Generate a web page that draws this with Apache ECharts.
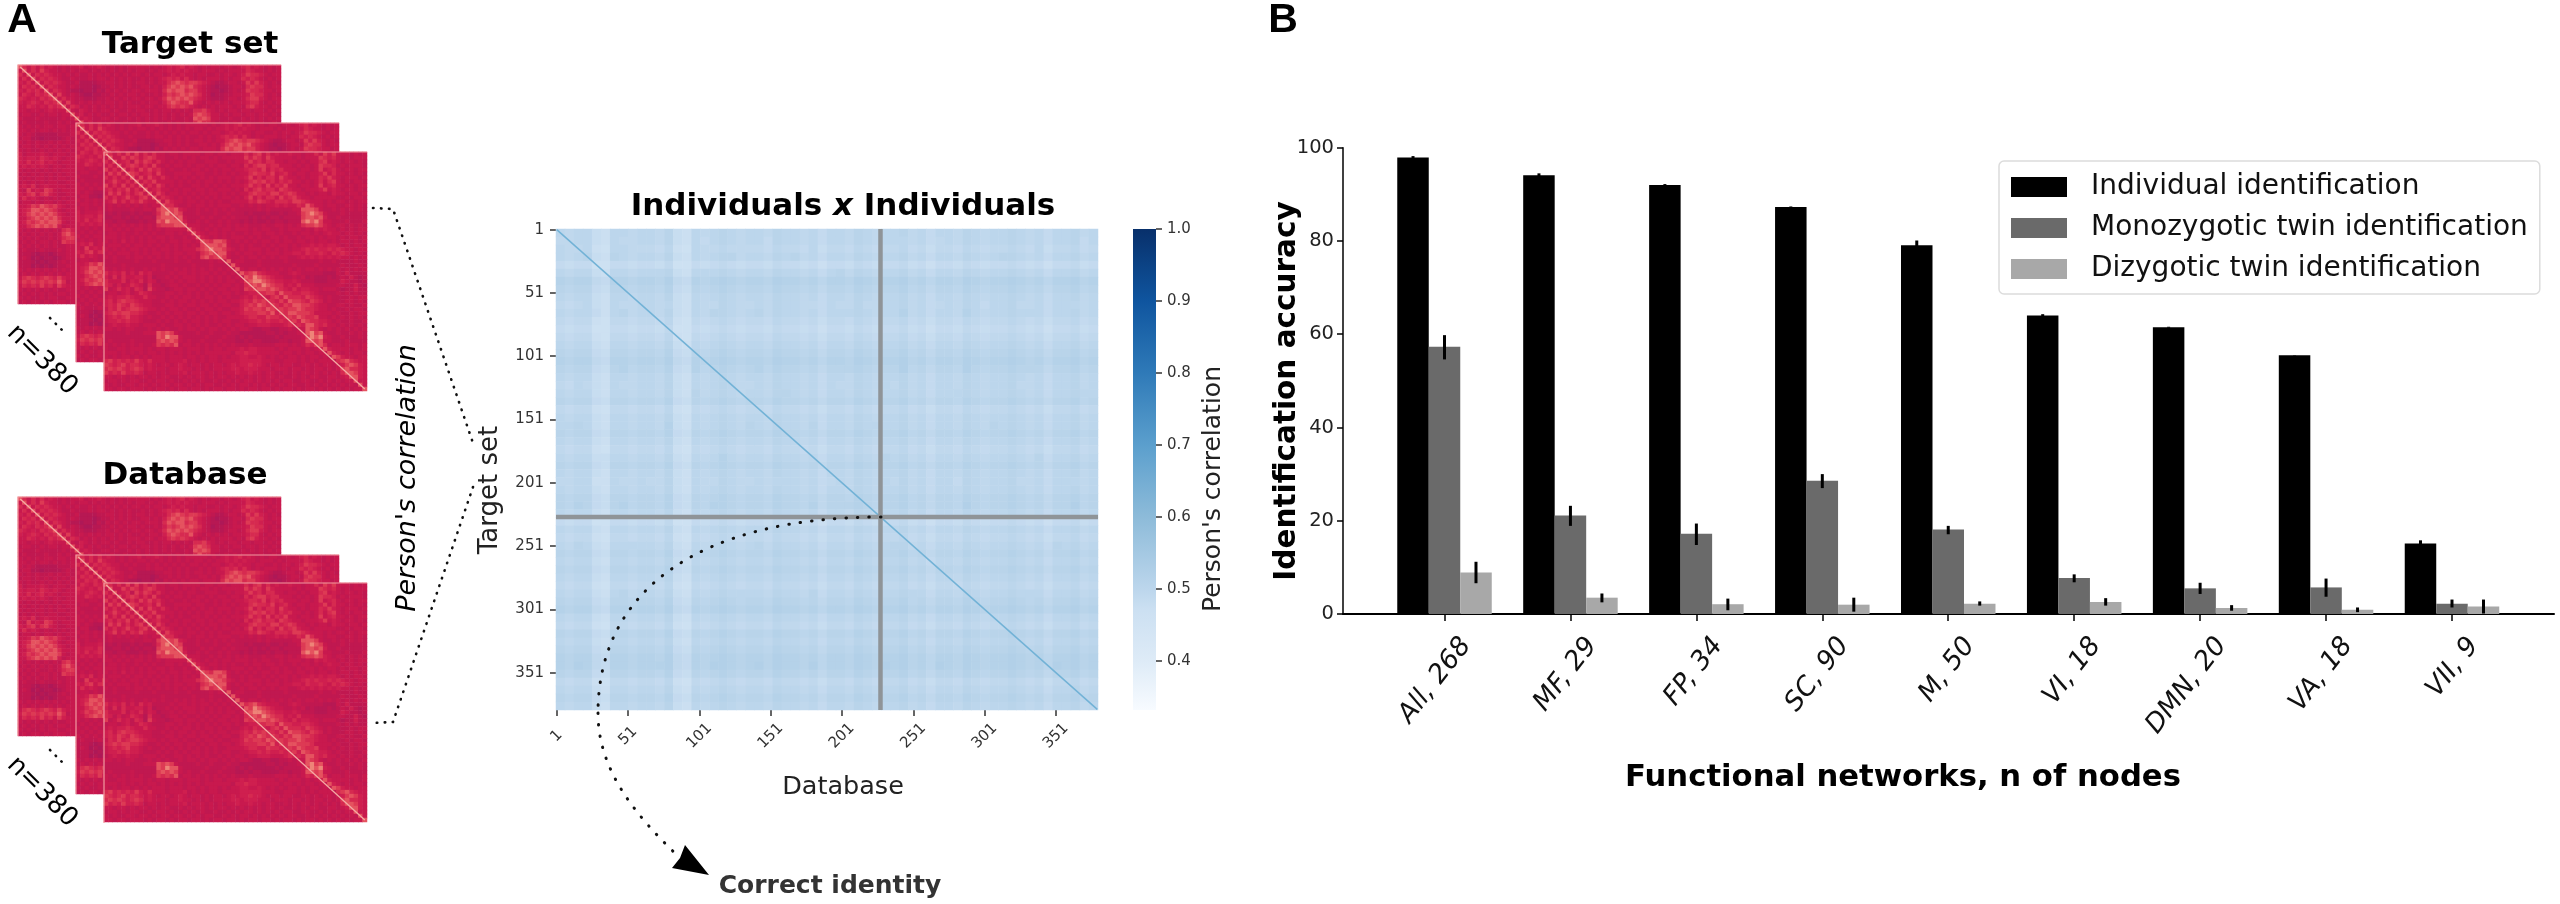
<!DOCTYPE html>
<html>
<head>
<meta charset="utf-8">
<title>Identification accuracy</title>
<script src="https://cdn.jsdelivr.net/npm/echarts@6/dist/echarts.min.js"></script>
<style>html,body{margin:0;padding:0;background:#fff}#c{width:2560px;height:904px}</style>
</head>
<body>
<div id="c"></div>
<script>
// ---------- Panel B values ----------
const networkLabels = ['All, 268','MF, 29','FP, 34','SC, 90','M, 50','VI, 18','DMN, 20','VA, 18','VII, 9'];
const individualValues = [97.9,94.1,92.0,87.3,79.1,64.0,61.5,55.5,15.1];
const individualLow    = [97.5,93.7,91.8,87.2,78.2,63.8,61.4,55.45,14.4];
const individualHigh   = [98.2,94.5,92.2,87.4,80.1,64.3,61.6,55.55,15.8];
const monozygoticValues = [57.3,21.1,17.2,28.6,18.1,7.7,5.5,5.7,2.2];
const monozygoticLow    = [54.6,18.9,14.8,27.0,17.1,6.8,4.3,3.7,1.4];
const monozygoticHigh   = [59.8,23.2,19.4,30.0,18.9,8.5,6.7,7.6,3.1];
const dizygoticValues = [8.9,3.5,2.1,2.0,2.2,2.6,1.3,0.9,1.6];
const dizygoticLow    = [6.6,2.5,0.8,0.5,1.8,1.8,0.7,0.4,0.1];
const dizygoticHigh   = [11.2,4.4,3.3,3.5,2.7,3.4,1.9,1.4,3.1];
const seriesNames = ['Individual identification','Monozygotic twin identification','Dizygotic twin identification'];
const accuracyTicks = [0,20,40,60,80,100];

// ---------- Panel A values (coarse estimates, one digit per cell) ----------
const individualTicks = [1,51,101,151,201,251,301,351];
const correlationTicks = [0.4,0.5,0.6,0.7,0.8,0.9,1.0];
const correctIdentityIndex = 228;
const individualRange = [1,380];

const frontMatrix = [
"8646474746 4644344344 4434434434 4464674645 4454434464 7574443434",
"4844757646 7644334343 4344343444 4475764754 4443434447 6564343444",
"6484563757 6464343434 4334443343 4457564664 4344343446 7454344343",
"4648467646 4743434434 3443434434 4364677566 4443434347 6653434443",
"7464846475 7564343343 4434343443 4456657465 6444344347 4564344344",
"4757487645 6474334444 3443343434 3446766574 5643443445 7464434343",
"6464648474 7546434343 4343434443 4457464664 7544343446 5754344434",
"4575464846 5744443434 3434434343 4346767564 6564434346 4674343443",
"7464746484 6475343433 4434343434 4457564746 5744344347 4564434344",
"5646574648 4564434344 3443434443 4364675664 7654434445 7454344343",
"4757464674 8475344343 4343443434 3446766577 5676443434 4354434434",
"6464575467 4846543434 3434343443 4357464664 7567544344 4443343443",
"4574646575 4484754434 4343434334 4446576546 6657765444 3434434344",
"3434343434 3448664334 3443434443 3434343445 4544658644 3443344343",
"3433334334 4378878543 3434343434 3333343433 3334488874 3343434343",
"2323223232 2368978733 3433343343 3323222322 3233478987 4333433333",
"2233232323 3278887843 3343433434 3332323233 2333378878 5334333333",
"3323322232 3387988853 3434334343 3232322323 3233389897 4433343334",
"4343434343 4367778884 4433434343 4343334334 4343467787 5434434343",
"4434343443 4343444448 5434343443 4443434433 4344434354 5443434344",
"3443433434 3433443434 8543443434 3343443443 4334344343 4544344343",
"4443434343 4344343343 4854343434 4434343344 3433434434 3443434434",
"4343534343 4434344344 3487688743 4343434434 3443443434 4343443434",
"3444343443 4343434343 4378887843 3434334343 4434344545 4554343443",
"4343434434 3434434344 4678988754 3434443434 3434456565 5656544344",
"3434443434 3443434434 4367878843 4344343444 3445546556 5465654343",
"4343343443 4343434343 4378678743 3434434343 4433454545 4545443434",
"3343333433 3433334334 3333434483 4433343333 3433333334 3343333433",
"3333433333 3334333333 4333433338 4333343333 3334333343 3333433343",
"4343434334 3434334343 4343434343 8434434343 4343434434 3434343434",
"6454635364 5333343443 4344343434 3867865444 3345433333 2224353333",
"5363644553 5233434344 4343434343 4387987654 4334342322 2323435323",
"6444635463 5423343434 4343434344 3478998765 5445433322 2333543323",
"6535346542 6332344343 3434343443 4367879876 6454644433 3334433532",
"7346453652 7433234434 4343434434 4376788787 6546455443 4443233533",
"3443453465 4333443434 3434343443 4345566775 8665566543 3334343433",
"4545565446 4433434344 3434434343 3454655467 5866657654 3433334344",
"5646766544 4334343443 4343434434 4565767665 7587765765 3433344343",
"5657657654 4333443434 4344343443 3567687676 5768877654 4334434334",
"4657567765 4434344343 3434434334 4576776876 7677876654 4343343443",
"5676776654 3343434434 4343443443 4566677685 7688777644 4434334344",
"4565675543 4334343434 3434343344 4456655766 5676876674 4343434343",
"4556565543 3343434343 4434343443 3445565655 6567587665 5434334334",
"3454454434 4434334434 3434334343 4434455544 4565658865 6443434343",
"4434344333 4343433434 4343443434 3443223322 3343448764 3434343434",
"3333343334 4487874333 3433433343 3222222332 3233448978 4334334343",
"3333333333 3387988433 3334333433 2323222223 2333347989 5433433343",
"3433334333 3378787434 3343334333 2232332222 3323348878 4433343333",
"4343434343 3476768344 3434343434 3334333334 4434346578 6344344434",
"4334434443 4344344434 4434344344 4545544443 4344434345 8544443434",
"4443434343 4434343434 3434444443 5565544444 3443434434 4854343443",
"4343443434 3444344434 4343443434 4554454343 4344343443 4387544344",
"6756565754 6444344453 4343443444 4555554443 3444343434 4436786544",
"7656756654 5434434543 4434344345 4556554344 3443344343 4434578754",
"6767656764 5444344544 3434344445 5455544434 4434434344 3434786654",
"7565755653 4434344453 4443434344 5445443443 3434344343 4343688754",
"4434434344 3434433434 3443434434 3434343443 4334343443 3443458854",
"3443434433 4344343343 4343343343 4344343434 3443344334 3434344844",
"4343344344 3434434434 3434433434 3443434343 4344334343 4343434384",
"4434434443 4344343443 4434344344 3434434434 3443434434 3434343448"
];

// Rows/cols hidden behind the nearer matrices carry the base value only.
const rearMatrix = [
"8646464543 4344534454 3434344444 3434545645 4343443443 4564543434",
"4846475443 4343443434 3434343443 4344545454 4344434344 4465443434",
"6484656544 3434334343 4343434434 3443454544 3443343443 4576654344",
"4648465654 3343334344 3434343343 4345656464 3434443434 4656543434",
"5464846565 4334222233 4434343443 4344678767 7654322344 3475754343",
"4656484654 4343222123 3434343344 3435787878 6543212234 4367664344",
"5465648465 4322122132 4343434434 4436878867 7543221234 3476654434",
"4654656847 4343211223 3434344343 3435767878 7643122334 4457664343",
"6545465684 6443322233 4343434434 4346878787 6543222344 3467754344",
"5456546568 4743434343 4434343343 4435787668 5434343434 4456643434",
"4465454656 8465343434 3434344434 4344676765 4343434443 4367544343",
"4434434544 4843543434 4343343443 3434434343 6675434344 3443443434",
"3443343443 4484534343 3434434344 3434343434 7876443434 4344344343",
"4333433333 4348454334 4343343434 3434343343 8787443343 3434343434",
"3433334334 3434845343 3433433434 3433434343 6866433434 3443343343",
"4343434434 4344484534 4444444444 4444444444 4444444444 4444444444",
"4434344343 4343448453 4444444444 4444444444 4444444444 4444444444",
"4343222223 3344344845 4444444444 4444444444 4444444444 4444444444",
"3442212222 3434343484 4444444444 4444444444 4444444444 4444444444",
"4343433434 3434344348 4444444444 4444444444 4444444444 4444444444",
"3443434343 4343434444 4444444444 4444444444 4444444444 4444444444",
"4343343434 3434444444 4444444444 4444444444 4444444444 4444444444",
"5344454344 4344444444 4444444444 4444444444 4444444444 4444444444",
"5455465454 3444444444 4444444444 4444444444 4444444444 4444444444",
"5464564543 4444444444 4444444444 4444444444 4444444444 4444444444",
"4545454344 3444444444 4444444444 4444444444 4444444444 4444444444",
"4343434343 4444444444 4444444444 4444444444 4444444444 4444444444",
"3434343434 3444444444 4444444444 4444444444 4444444444 4444444444",
"4343443434 4344444444 4444444444 4444444444 4444444444 4444444444",
"3434343443 3444444444 4444444444 4444444444 4444444444 4444444444",
"4546345444 4344444444 4444444444 4444444444 4444444444 4444444444",
"4374547643 4444444444 4444444444 4444444444 4444444444 4444444444",
"5467467543 3444444444 4444444444 4444444444 4444444444 4444444444",
"4645434343 4344444444 4444444444 4444444444 4444444444 4444444444",
"3443434434 3444444444 4444444444 4444444444 4444444444 4444444444",
"4457687675 4344444444 4444444444 4444444444 4444444444 4444444444",
"4568878764 3444444444 4444444444 4444444444 4444444444 4444444444",
"4578787875 4344444444 4444444444 4444444444 4444444444 4444444444",
"4467878786 4444444444 4444444444 4444444444 4444444444 4444444444",
"4576787887 4344444444 4444444444 4444444444 4444444444 4444444444",
"4467878785 3444444444 4444444444 4444444444 4444444444 4444444444",
"4343434343 6754444444 4444444444 4444444444 4444444444 4444444444",
"3434343434 7864444444 4444444444 4444444444 4444444444 4444444444",
"4343433434 6774444444 4444444444 4444444444 4444444444 4444444444",
"3434344343 7664444444 4444444444 4444444444 4444444444 4444444444",
"4343434343 3444444444 4444444444 4444444444 4444444444 4444444444",
"3433343334 3444444444 4444444444 4444444444 4444444444 4444444444",
"3332122123 3444444444 4444444444 4444444444 4444444444 4444444444",
"3431212212 3444444444 4444444444 4444444444 4444444444 4444444444",
"3332121223 4344444444 4444444444 4444444444 4444444444 4444444444",
"3331212123 3444444444 4444444444 4444444444 4444444444 4444444444",
"4343434343 4344444444 4444444444 4444444444 4444444444 4444444444",
"3434343434 3444444444 4444444444 4444444444 4444444444 4444444444",
"4676567657 5444444444 4444444444 4444444444 4444444444 4444444444",
"5767676768 6344444444 4444444444 4444444444 4444444444 4444444444",
"4656575647 5444444444 4444444444 4444444444 4444444444 4444444444",
"4343434343 3444444444 4444444444 4444444444 4444444444 4444444444",
"3434343434 4344444444 4444444444 4444444444 4444444444 4444444444",
"4343343443 3444444444 4444444444 4444444444 4444444444 4444444444",
"3434434344 4344444444 4444444444 4444444444 4444444444 4444444444"
];

const similarityMatrix = [
"5455215545 5462154565 4554655453 5546545564 5355465455 6545355645",
"4455215445 5462153565 4553655453 5546545554 5345465455 6545355635",
"5445105544 4351054454 4443544352 4435434453 4244354344 5435244534",
"5456216545 5462154566 4554656453 5546545564 5355465456 6545355645",
"3233003323 3240032343 2332433231 3324323342 3133243233 4323133423",
"5455215545 5562155565 4554655453 5646545564 5355465455 6545355645",
"7677437767 7684376787 6776877675 7768767786 7577687677 8767577867",
"6566326656 6573265676 5665766564 6657656675 6466576566 7656466756",
"5455215545 5462154565 4554655453 5546545564 5355465455 6545355645",
"4345215445 5452154465 4454655443 5446445564 5345465355 6445355545",
"5455315645 5462154665 4564655453 5556545574 5355475455 6555355645",
"4344104434 4351043454 3443544342 4435434453 4244354344 5434244534",
"3233003323 3240032343 2332433231 3324323342 3133243233 4323133423",
"4344104434 4351043454 3443544342 4435434453 4244354344 5434244534",
"5455215545 5462154565 4554655453 5546545564 5355465455 6545355645",
"6566326656 6573265676 5665766564 6657656675 6466576566 7656466756",
"7677437767 7684376787 6776877675 7768767786 7577687677 8767577867",
"6566326756 6573275676 5675766564 6667656685 6466586566 7666466756",
"5455215545 5462154565 4554655453 5546545564 5355465455 6545355645",
"4354215445 5462154565 4454655453 5446545464 5355465455 6445355645",
"5455215545 5462164565 4554665453 5546545564 5355565455 6545355655",
"6566326656 6573265676 5665766564 6657656675 6466576566 7656466756",
"4344104434 4351043454 3443544342 4435434453 4244354344 5434244534",
"5455215545 5462154565 4554655453 5546545564 5355465455 6545355645",
"5565215545 5472154565 4654655463 5546555564 5355465465 6545355645",
"6566326656 6573265676 5665766564 6657656675 6466576566 7656466756",
"5455215545 5462154565 4554655453 5546545564 5355465455 6545355645",
"4344104434 4351043454 3443544342 4435434453 4244354344 5434244534",
"5455225545 5462154575 4554655453 5546546564 5355465455 6546355645",
"6566326656 6573265676 5665766564 6657656675 6466576566 7656466756",
"5455215545 5462154565 4554655453 5546545564 5355465455 6545355645",
"4455115445 4462154465 4454555453 4546545464 5355365455 6445355545",
"5455215545 5462154565 4554655453 5546545564 5355465455 6545355645",
"6566326656 6573265676 5665766564 6657656675 6466576566 7656466756",
"6576326756 6573265776 5665766574 6667656675 6466586566 7656466856",
"5455215545 5462154565 4554655453 5546545564 5355465455 6545355645",
"3233003323 3240032343 2332433231 3324323342 3133243233 4323133423",
"5455215545 5462154565 4554655453 5546545564 5355465455 6545355645",
"4344104434 4351043454 3443544342 4435434453 4244354344 5434244534",
"5465215555 5462154565 4564655453 5546545664 5355465455 6545365645",
"6566326656 6573265676 5665766564 6657656675 6466576566 7656466756",
"5455215545 5462154565 4554655453 5546545564 5355465455 6545355645",
"6566326656 6573265676 5665766564 6657656675 6466576566 7656466756",
"5455215545 5462154565 4554655453 5546545564 5355465455 6545355645",
"4344104434 4351043454 3443544342 4435434453 4244354344 5434244534",
"5455215645 5462154565 5554655463 5546545565 5355465455 6555355645",
"6566326656 6573265676 5665766564 6657656675 6466576566 7656466756",
"7677437767 7684376787 6776877675 7768767786 7577687677 8767577867",
"5455215545 5462154565 4554655453 5546545564 5355465455 6545355645",
"4344104434 4351043454 3443544342 4435434453 4244354344 5434244534",
"6566326656 6573265676 5665766564 6657656675 6466576566 7656466756",
"5455215545 5462154565 4554655453 5546545564 5355465455 6545355645",
"6566326656 6573265676 5665766564 6657656675 6466576566 7656466756",
"7677437767 7684376787 6776877675 7768767786 7577687677 8767577867",
"7687437767 7784376887 6786877685 7768768786 7587687677 8767587867",
"6566326656 6573265676 5665766564 6657656675 6466576566 7656466756",
"4344104434 4351043454 3443544342 4435434453 4244354344 5434244534",
"5455215545 5462154565 4554655453 5546545564 5355465455 6545355645",
"6566326656 6573265676 5665766564 6657656675 6466576566 7656466756",
"5455215545 5462154565 4554655453 5546545564 5355465455 6545355645"
];

const redPalette = ['#a4195a','#ae1857','#b71853','#c01850','#c8194e','#cf1f4f','#d62a50','#dd3a54','#e5535f','#ee8478'];
const bluePalette = [[0.332,'#f7fbff'],[0.4,'#deebf7'],[0.47,'#cce0f2'],[0.5,'#bcd6ec'],[0.6,'#8dbbd9'],[0.7,'#5b9fcd'],[0.8,'#2f7ab8'],[0.9,'#0f559f'],[1,'#08306b']];

// ---------- Build ----------
const FONT = '"DejaVu Sans"';
const grids = [], xAxes = [], yAxes = [], series = [];
const redSeries = [], blueSeries = [];

function cellsOf(rows, decode) {
  const out = [];
  rows.forEach((raw, y) => { const r = raw.replace(/ /g, ''); for (let x = 0; x < r.length; x++) out.push([x, y, decode(Number(r[x]))]); });
  return out;
}
function addMatrix(rect, rows, z) {
  const i = grids.length;
  grids.push({left: rect[0], top: rect[1], width: rect[2], height: rect[3], containLabel: false});
  const n = rows.length, cats = rows.map((_, k) => String(k));
  xAxes.push({gridIndex: i, type: 'category', data: cats, show: false});
  yAxes.push({gridIndex: i, type: 'category', data: cats, inverse: true, show: false});
  redSeries.push(series.length);
  series.push({type: 'heatmap', xAxisIndex: i, yAxisIndex: i, z: z, silent: true, progressive: 0,
    itemStyle: {borderWidth: 0}, data: cellsOf(rows, d => d)});
  series.push({type: 'line', xAxisIndex: i, yAxisIndex: i, z: z + 1, silent: true, symbol: 'none',
    lineStyle: {color: '#f5aaa4', width: 1.3}, data: [[0, 0], [n - 1, n - 1]]});
}
addMatrix([18, 65, 263, 239], rearMatrix, 2);
addMatrix([76, 123, 263, 239], rearMatrix, 4);
addMatrix([104, 152, 263, 239], frontMatrix, 6);
addMatrix([18, 497, 263, 239], rearMatrix, 2);
addMatrix([76, 555, 263, 239], rearMatrix, 4);
addMatrix([104, 583, 263, 239], frontMatrix, 6);

// similarity heat map (texture)
const simRect = {left: 556, top: 229, width: 542, height: 481};
let gi = grids.length;
grids.push(Object.assign({containLabel: false}, simRect));
const simCats = similarityMatrix.map((_, k) => String(k));
xAxes.push({gridIndex: gi, type: 'category', data: simCats, show: false});
yAxes.push({gridIndex: gi, type: 'category', data: simCats, inverse: true, show: false});
blueSeries.push(series.length);
series.push({type: 'heatmap', xAxisIndex: gi, yAxisIndex: gi, z: 2, silent: true, progressive: 0,
  itemStyle: {borderWidth: 0}, data: cellsOf(similarityMatrix, d => +(0.465 + d * 0.007).toFixed(3))});

// similarity axes, diagonal and crosshair
gi = grids.length;
grids.push(Object.assign({containLabel: false}, simRect));
const tickText = {color: '#333', fontFamily: FONT, fontSize: 15};
xAxes.push({gridIndex: gi, type: 'value', min: individualRange[0] - 0.5, max: individualRange[1] + 0.5,
  splitLine: {show: false}, axisLine: {show: false},
  axisTick: {show: true, customValues: individualTicks, length: 6, lineStyle: {color: '#333', width: 1.5}},
  axisLabel: Object.assign({}, tickText, {customValues: individualTicks, rotate: 45, align: 'center', verticalAlign: 'middle', margin: 26, formatter: v => String(v)})});
yAxes.push({gridIndex: gi, type: 'value', inverse: true, min: individualRange[0] - 0.5, max: individualRange[1] + 0.5,
  splitLine: {show: false}, axisLine: {show: false},
  axisTick: {show: true, customValues: individualTicks, length: 6, lineStyle: {color: '#333', width: 1.5}},
  axisLabel: Object.assign({}, tickText, {customValues: individualTicks, margin: 12, formatter: v => String(v)})});
series.push({type: 'line', xAxisIndex: gi, yAxisIndex: gi, z: 3, silent: true, symbol: 'none',
  lineStyle: {color: '#72b2d6', width: 1.5},
  data: [[individualRange[0], individualRange[0]], [individualRange[1], individualRange[1]]]});
series.push({type: 'line', xAxisIndex: gi, yAxisIndex: gi, z: 4, silent: true, symbol: 'none',
  lineStyle: {color: '#8f9498', width: 4.5},
  data: [[correctIdentityIndex, individualRange[0] - 0.5], [correctIdentityIndex, individualRange[1] + 0.5]]});
series.push({type: 'line', xAxisIndex: gi, yAxisIndex: gi, z: 4, silent: true, symbol: 'none',
  lineStyle: {color: '#8f9498', width: 4.5},
  data: [[individualRange[0] - 0.5, correctIdentityIndex], [individualRange[1] + 0.5, correctIdentityIndex]]});

// colour bar
gi = grids.length;
grids.push({left: 1133, top: 229, width: 23, height: 481, containLabel: false});
const cbMin = bluePalette[0][0], cbMax = bluePalette[bluePalette.length - 1][0];
xAxes.push({gridIndex: gi, type: 'category', data: ['r'], show: false});
yAxes.push({gridIndex: gi, type: 'value', position: 'right', min: cbMin, max: cbMax,
  splitLine: {show: false}, axisLine: {show: false},
  axisTick: {show: true, customValues: correlationTicks, length: 6, lineStyle: {color: '#333', width: 1.5}},
  axisLabel: Object.assign({}, tickText, {customValues: correlationTicks, margin: 11, formatter: v => v.toFixed(1)})});
series.push({type: 'bar', xAxisIndex: gi, yAxisIndex: gi, silent: true, barWidth: '100%', data: [cbMax],
  itemStyle: {color: new echarts.graphic.LinearGradient(0, 1, 0, 0,
    bluePalette.map(p => ({offset: (p[0] - cbMin) / (cbMax - cbMin), color: p[1]})))}});

// panel B
gi = grids.length;
grids.push({left: 1343, top: 147.7, width: 1211, height: 466.3, containLabel: false});
const catTicks = networkLabels.map((_, k) => k);
xAxes.push({gridIndex: gi, type: 'value', min: -0.806, max: 8.81, splitLine: {show: false},
  axisLine: {show: true, onZero: false, lineStyle: {color: '#000', width: 2}},
  axisTick: {show: true, customValues: catTicks, length: 7, lineStyle: {color: '#000', width: 1.5}},
  axisLabel: {customValues: catTicks, rotate: 52, margin: 10, verticalAlign: 'top', padding: [14, 0, 0, 0], color: '#111', fontFamily: FONT, fontStyle: 'italic', fontSize: 26.5,
    formatter: v => networkLabels[v]}});
yAxes.push({gridIndex: gi, type: 'value', min: accuracyTicks[0], max: accuracyTicks[accuracyTicks.length - 1], interval: 20,
  splitLine: {show: false},
  axisLine: {show: true, onZero: false, lineStyle: {color: '#000', width: 1.5}},
  axisTick: {show: true, length: 6, lineStyle: {color: '#000', width: 1.5}},
  axisLabel: {margin: 9, color: '#222', fontFamily: FONT, fontSize: 19.5}});
const barColors = ['#000000', '#6a6a6a', '#a8a8a8'];
const barValues = [individualValues, monozygoticValues, dizygoticValues];
const barLow = [individualLow, monozygoticLow, dizygoticLow];
const barHigh = [individualHigh, monozygoticHigh, dizygoticHigh];
barValues.forEach((vals, s) => {
  series.push({type: 'bar', name: seriesNames[s], xAxisIndex: gi, yAxisIndex: gi, barWidth: 31.5, barGap: '0%', silent: true,
    itemStyle: {color: barColors[s]}, data: vals.map((v, k) => [k, v])});
});
barValues.forEach((vals, s) => {
  series.push({type: 'custom', xAxisIndex: gi, yAxisIndex: gi, z: 5, silent: true,
    encode: {x: 0, y: [1, 2]},
    data: vals.map((v, k) => [k + (s - 1) * 0.25, barLow[s][k], barHigh[s][k]]),
    renderItem: (params, api) => {
      const a = api.coord([api.value(0), api.value(1)]), b = api.coord([api.value(0), api.value(2)]);
      return {type: 'line', shape: {x1: a[0], y1: a[1], x2: b[0], y2: b[1]}, style: {stroke: '#000', lineWidth: 3}};
    }});
});

// annotations
function txt(x, y, text, size, opts) {
  const o = opts || {};
  return {type: 'text', x: x, y: y, rotation: o.rot || 0, z: 60,
    style: Object.assign({text: text, fontFamily: o.family || FONT, fontSize: size, fontWeight: o.bold ? 'bold' : 'normal',
      fontStyle: o.italic ? 'italic' : 'normal', fill: o.color || '#000', align: 'center', verticalAlign: 'middle'}, o.style || {})};
}
function dots(points, gap) {
  return {type: 'polyline', z: 60, shape: {points: points},
    style: {fill: 'none', stroke: '#111', lineWidth: 2.6, lineDash: [0.5, gap || 7.5], lineCap: 'round'}};
}
function edge(points) {
  return {type: 'polyline', z: 20, shape: {points: points}, style: {fill: 'none', stroke: '#f29aa0', lineWidth: 1.2}};
}
const elements = [
  txt(22, 21, 'A', 41, {bold: true, family: '"Liberation Sans"'}),
  txt(1283, 21, 'B', 41, {bold: true, family: '"Liberation Sans"'}),
  txt(190, 45, 'Target set', 31, {bold: true}),
  txt(185, 476, 'Database', 31, {bold: true}),
  txt(42, 360, 'n=380', 26, {rot: -Math.PI / 4}),
  txt(42, 792, 'n=380', 26, {rot: -Math.PI / 4}),
  dots([[50, 318], [63, 331]]),
  dots([[50, 750], [63, 763]]),
  txt(408, 478, "Person's correlation", 27, {rot: Math.PI / 2, italic: true}),
  {type: 'text', x: 843, y: 207, z: 60, style: {text: '{b|Individuals }{i|x}{b| Individuals}', align: 'center', verticalAlign: 'middle',
    rich: {b: {fontFamily: FONT, fontWeight: 'bold', fontSize: 31, fill: '#000'}, i: {fontFamily: FONT, fontWeight: 'bold', fontStyle: 'italic', fontSize: 31, fill: '#000'}}}},
  txt(490, 490, 'Target set', 26, {rot: Math.PI / 2, color: '#222'}),
  txt(843, 787, 'Database', 25.5, {color: '#222'}),
  txt(1213, 489, "Person's correlation", 25, {rot: Math.PI / 2, color: '#222'}),
  txt(830, 886, 'Correct identity', 25, {bold: true, color: '#333'}),
  txt(1287, 391, 'Identification accuracy', 29.5, {rot: Math.PI / 2, bold: true}),
  txt(1903, 778, 'Functional networks, n of nodes', 30.7, {bold: true}),
  dots([[373, 208], [393, 209], [473, 443]]),
  dots([[473, 487], [393, 722], [373, 723]]),
  {type: 'bezierCurve', z: 60, shape: {x1: 881, y1: 517, cpx1: 700, cpy1: 517, cpx2: 598, cpy2: 590, x2: 598, y2: 713},
    style: {fill: 'none', stroke: '#111', lineWidth: 3, lineDash: [0.5, 11], lineCap: 'round'}},
  {type: 'bezierCurve', z: 60, shape: {x1: 598, y1: 713, cpx1: 598, cpy1: 770, cpx2: 635, cpy2: 815, x2: 680, y2: 858},
    style: {fill: 'none', stroke: '#111', lineWidth: 3, lineDash: [0.5, 11], lineCap: 'round'}},
  {type: 'polygon', z: 61, shape: {points: [[709, 875], [685, 845], [680, 858], [672, 868]]}, style: {fill: '#000'}},
  edge([[18, 304], [18, 65], [281, 65]]), edge([[76, 362], [76, 123], [339, 123]]), edge([[104, 391], [104, 152], [367, 152]]),
  edge([[18, 736], [18, 497], [281, 497]]), edge([[76, 794], [76, 555], [339, 555]]), edge([[104, 823], [104, 583], [367, 583]])
];

const chart = echarts.init(document.getElementById('c'), null, {renderer: 'canvas'});
chart.setOption({
  animation: false,
  backgroundColor: '#fff',
  grid: grids, xAxis: xAxes, yAxis: yAxes,
  visualMap: [
    {show: false, type: 'continuous', min: 0, max: 9, dimension: 2, seriesIndex: redSeries, inRange: {color: redPalette}},
    {show: false, type: 'continuous', min: cbMin, max: cbMax, dimension: 2, seriesIndex: blueSeries,
     inRange: {color: (() => { const out = []; for (let k = 0; k <= 66; k++) { const v = cbMin + (cbMax - cbMin) * k / 66; let j = 0; while (j < bluePalette.length - 2 && v > bluePalette[j + 1][0]) j++; const t = (v - bluePalette[j][0]) / (bluePalette[j + 1][0] - bluePalette[j][0]); out.push(echarts.color.lerp(t, [bluePalette[j][1], bluePalette[j + 1][1]])); } return out; })()}}
  ],
  legend: {show: true, data: seriesNames, orient: 'vertical', left: 1999, top: 161, padding: [12, 12, 11, 12], itemWidth: 56, itemHeight: 20, itemGap: 13,
    icon: 'rect', selectedMode: false, backgroundColor: '#fff', borderColor: '#dcdcdc', borderWidth: 1.5, borderRadius: 5,
    textStyle: {fontFamily: FONT, fontSize: 28, color: '#111', padding: [0, 0, 0, 19]}},
  graphic: {elements: elements},
  series: series
});
</script>
</body>
</html>
